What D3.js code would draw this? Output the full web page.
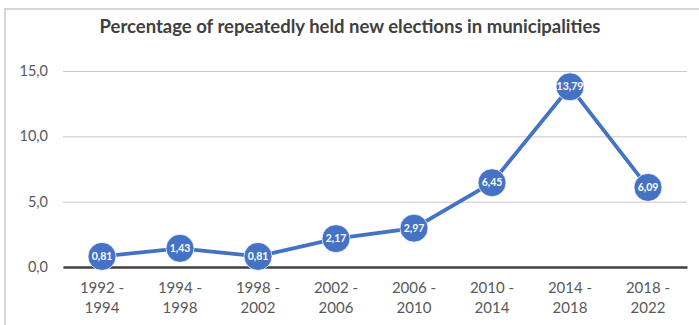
<!DOCTYPE html>
<html>
<head>
<meta charset="utf-8">
<script src="https://cdn.jsdelivr.net/npm/d3@7"></script>
<style>
  body { margin: 0; background: #fff; }
  svg { display: block; font-family: Lato, "Open Sans", sans-serif; }
</style>
</head>
<body>
<div id="chart"></div>
<script>
// data
const periods = ["1992 - 1994", "1994 - 1998", "1998 - 2002", "2002 - 2006",
                 "2006 - 2010", "2010 - 2014", "2014 - 2018", "2018 - 2022"];
const shares = [0.81, 1.43, 0.81, 2.17, 2.97, 6.45, 13.79, 6.09];
const yTicks = [0, 5, 10, 15];
const title = "Percentage of repeatedly held new elections in municipalities";

const W = 699, H = 325;
const margin = {top: 71, right: 12, bottom: 58, left: 63};
const width = W - margin.left - margin.right;
const height = 267 - margin.top;

const comma = d => d.toFixed(2).replace(".", ",");
const comma1 = d => d.toFixed(1).replace(".", ",");

const svg = d3.select("#chart")
  .append("svg")
  .attr("width", W)
  .attr("height", H);

// outer frame (only left and top edges are in view)
svg.append("rect")
  .attr("x", 5).attr("y", 9)
  .attr("width", 760).attr("height", 400)
  .attr("fill", "none")
  .attr("stroke", "#c9c9c9")
  .attr("stroke-width", 1.5);

svg.append("text")
  .attr("x", 350)
  .attr("y", 33)
  .attr("text-anchor", "middle")
  .attr("font-size", "18.5px")
  .attr("font-weight", "bold")
  .attr("fill", "#404040")
  .text(title);

const g = svg.append("g")
  .attr("transform", `translate(${margin.left},${margin.top})`);

const x = d3.scaleBand().domain(periods).range([0, width]);
const y = d3.scaleLinear().domain([0, 15]).range([height, 0]);

// gridlines + y labels
const yAxis = g.append("g")
  .call(d3.axisLeft(y).tickValues(yTicks).tickSize(-width).tickFormat(comma1).tickPadding(15));
yAxis.select(".domain").remove();
yAxis.selectAll(".tick line").attr("stroke", "#c8c8c8");
yAxis.selectAll(".tick text")
  .attr("font-size", "14.5px")
  .attr("fill", "#595959")
  .style("font-family", "Lato, sans-serif");

// x axis
const xAxis = g.append("g")
  .attr("transform", `translate(0,${height})`)
  .call(d3.axisBottom(x).tickSize(0).tickPadding(0));
xAxis.select(".domain").attr("stroke", "#404040").attr("stroke-width", 2.5);
xAxis.selectAll(".tick text").each(function(d) {
  const t = d3.select(this).text(null)
    .attr("font-size", "15px")
    .attr("fill", "#595959")
    .style("font-family", "Lato, sans-serif")
    .attr("y", 0)
    .attr("dy", null);
  const parts = d.split(" - ");
  t.append("tspan").attr("x", 0).attr("y", 26).text(parts[0] + " -");
  t.append("tspan").attr("x", 0).attr("y", 46).text(parts[1]);
});

// line
const line = d3.line()
  .x((d, i) => x(periods[i]) + x.bandwidth() / 2)
  .y(d => y(d));

g.append("path")
  .datum(shares)
  .attr("fill", "none")
  .attr("stroke", "#4472c4")
  .attr("stroke-width", 3.75)
  .attr("d", line);

const pts = g.selectAll(".pt")
  .data(shares)
  .join("g")
  .attr("class", "pt")
  .attr("transform", (d, i) => `translate(${x(periods[i]) + x.bandwidth() / 2},${y(d)})`);

pts.append("circle")
  .attr("r", 14)
  .attr("fill", "#4472c4")
  .attr("stroke", "#fff")
  .attr("stroke-width", 0.75);

pts.append("text")
  .attr("text-anchor", "middle")
  .attr("dy", "0.35em")
  .attr("font-size", "10.5px")
  .attr("font-weight", "bold")
  .attr("fill", "#fff")
  .text(comma);
</script>
</body>
</html>
